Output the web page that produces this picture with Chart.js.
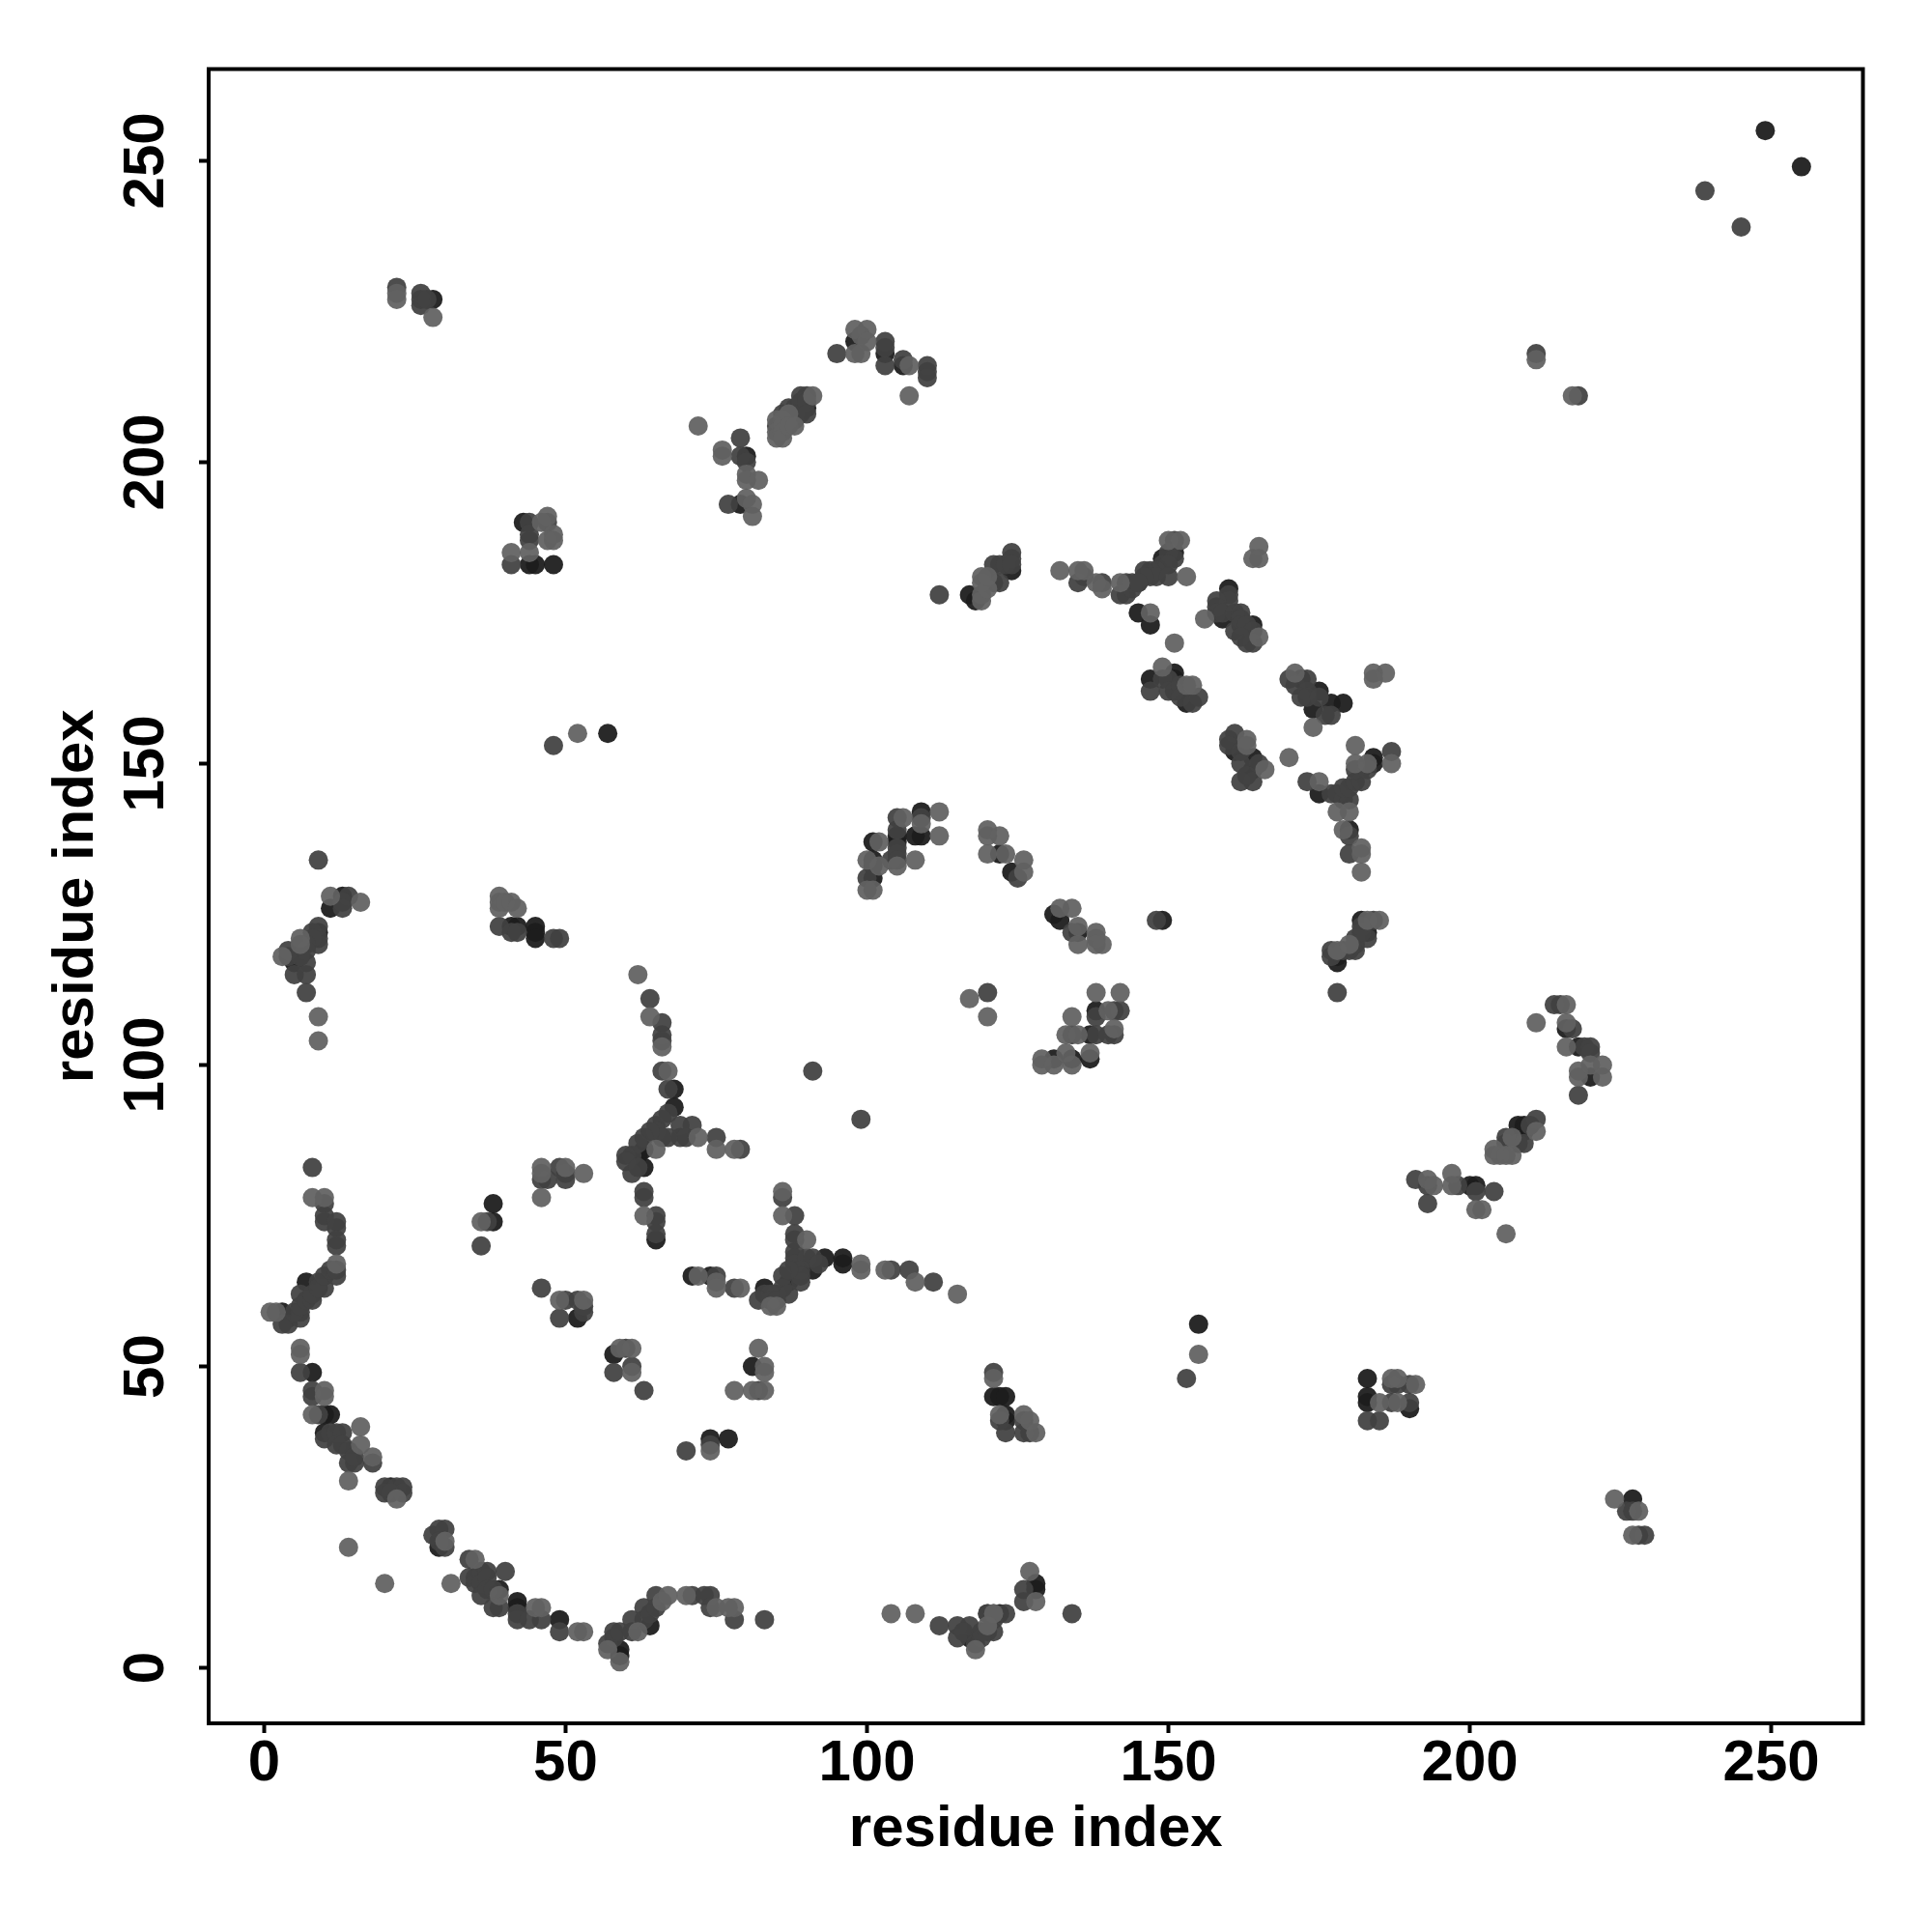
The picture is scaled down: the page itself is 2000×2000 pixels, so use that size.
<!DOCTYPE html>
<html><head><meta charset="utf-8">
<script src="https://cdn.jsdelivr.net/npm/chart.js@4"></script>
<style>html,body{margin:0;padding:0;background:#fff}#w{width:2000px;height:2000px}</style></head>
<body><div id="w"><canvas id="c" width="2000" height="2000"></canvas></div>
<script>
const tickValues = [0, 50, 100, 150, 200, 250];
const axisLabel = "residue index";
const axisMin = -9.2, axisMax = 265.2;
const darkPoints = [[28,227],[43,190],[44,183],[45,183],[48,183],[57,155],[80,201],[79,193],[90,209],[89,209],[98,220],[103,218],[106,216],[117,178],[118,177],[124,182],[101,137],[101,134],[101,133],[101,131],[105,138],[105,137],[108,138],[109,138],[109,142],[122,135],[124,132],[151,185],[149,184],[145,175],[147,173],[160,179],[159,174],[164,173],[147,164],[151,165],[151,164],[153,160],[172,164],[175,162],[174,159],[177,160],[179,160],[161,152],[164,151],[164,149],[175,145],[182,149],[184,151],[184,150],[180,139],[249,255],[255,249],[131,125],[132,124],[135,122],[149,124],[178,118],[178,117],[182,124],[183,122],[131,101],[134,101],[137,105],[137,101],[138,109],[209,90],[208,90],[209,89],[200,80],[201,80],[216,106],[218,103],[220,98],[155,57],[183,48],[183,45],[183,44],[190,43],[227,28],[121,45],[122,45],[123,45],[123,42],[123,41],[128,14],[128,13],[122,9],[117,5],[29,20],[39,13],[42,11],[42,10],[49,8],[59,3],[59,2],[64,7],[3,59],[4,58],[7,64],[8,49],[10,42],[11,42],[10,39],[21,30],[9,122],[5,117],[13,128],[11,126],[41,123],[42,123],[45,123],[45,122],[45,121],[68,96],[68,93],[63,86],[62,85],[63,83],[65,71],[38,77],[38,74],[52,58],[58,52],[81,50],[74,38],[77,38],[93,68],[91,66],[87,64],[83,63],[96,68],[96,67],[71,65],[74,65]];
const midPoints = [[22,229],[26,228],[26,227],[26,226],[27,227],[44,190],[44,188],[44,187],[41,183],[47,190],[48,153],[79,204],[79,201],[80,200],[77,193],[85,206],[86,208],[87,209],[87,207],[88,209],[88,208],[88,207],[89,211],[89,210],[89,208],[90,211],[90,210],[90,208],[95,218],[103,220],[103,219],[103,216],[106,217],[110,216],[110,215],[110,214],[112,178],[121,183],[121,180],[122,183],[122,180],[123,183],[124,184],[124,185],[124,183],[100,131],[104,134],[105,141],[105,139],[105,136],[105,135],[105,134],[109,141],[125,131],[135,180],[136,181],[139,180],[142,178],[143,180],[143,178],[144,180],[144,179],[145,180],[151,187],[151,184],[150,185],[149,183],[150,183],[148,182],[147,182],[146,182],[147,181],[148,181],[146,181],[150,181],[145,180],[160,178],[160,177],[158,177],[158,176],[158,175],[159,175],[161,175],[162,175],[162,174],[161,172],[162,173],[163,173],[164,172],[163,170],[164,170],[162,171],[147,162],[149,164],[150,164],[150,162],[151,162],[152,163],[152,161],[154,160],[155,161],[170,164],[171,163],[173,164],[172,161],[173,162],[173,161],[175,161],[176,158],[177,158],[160,154],[161,155],[160,153],[162,152],[162,150],[165,150],[162,147],[164,147],[163,148],[173,147],[177,145],[178,145],[179,144],[180,144],[179,146],[180,146],[181,147],[182,147],[181,149],[183,149],[187,152],[180,138],[180,135],[211,218],[218,211],[239,245],[245,239],[134,122],[148,124],[177,118],[177,119],[179,119],[180,119],[181,119],[181,121],[181,120],[182,123],[184,124],[183,121],[182,122],[178,112],[134,105],[138,105],[138,108],[141,109],[142,109],[141,105],[140,105],[120,112],[211,91],[210,90],[209,87],[208,87],[206,88],[206,87],[191,81],[193,80],[193,77],[198,80],[201,79],[204,79],[214,110],[215,110],[217,106],[219,103],[220,103],[220,102],[218,95],[153,48],[183,41],[185,41],[187,44],[190,44],[190,47],[187,47],[188,47],[226,26],[227,26],[228,22],[229,22],[121,49],[122,41],[123,39],[126,41],[126,39],[127,39],[126,13],[126,11],[134,9],[123,9],[120,9],[121,8],[121,6],[120,6],[112,7],[115,7],[115,5],[117,7],[116,6],[118,4],[119,6],[119,5],[120,9],[121,9],[28,22],[29,23],[30,23],[29,21],[30,20],[34,18],[34,15],[35,15],[35,14],[36,16],[36,14],[36,12],[37,16],[37,15],[37,13],[40,16],[38,13],[38,10],[39,10],[42,9],[42,8],[44,8],[46,8],[49,6],[57,4],[58,6],[58,5],[59,6],[61,6],[61,8],[63,10],[63,8],[64,9],[65,12],[65,10],[71,12],[73,12],[74,12],[74,10],[78,8],[83,8],[3,57],[4,57],[6,58],[6,59],[5,59],[6,60],[6,62],[7,61],[8,61],[8,62],[9,64],[10,63],[9,63],[10,65],[12,65],[11,66],[12,66],[6,49],[8,46],[8,45],[9,42],[10,38],[11,39],[12,39],[13,39],[12,37],[13,37],[14,36],[14,34],[15,34],[15,35],[18,34],[20,30],[20,29],[22,30],[23,30],[23,29],[21,29],[8,83],[10,77],[10,75],[10,74],[12,74],[12,73],[12,71],[12,70],[9,134],[14,128],[13,127],[13,126],[9,123],[9,121],[9,120],[8,122],[8,121],[7,120],[7,119],[4,119],[4,118],[5,115],[7,117],[7,115],[6,118],[7,112],[39,123],[41,122],[42,122],[48,121],[49,121],[64,111],[66,107],[66,105],[66,104],[66,99],[67,96],[67,92],[66,91],[65,90],[65,89],[69,90],[71,90],[69,88],[70,88],[75,88],[79,86],[67,88],[66,88],[64,89],[63,88],[62,87],[61,85],[60,85],[60,84],[61,82],[62,83],[63,79],[63,78],[65,75],[65,74],[65,72],[46,81],[47,81],[49,83],[50,82],[50,81],[37,74],[36,70],[46,63],[50,61],[52,61],[49,58],[53,59],[53,60],[60,53],[61,50],[58,49],[63,46],[82,46],[70,36],[74,37],[91,99],[99,91],[86,78],[88,75],[88,72],[88,71],[88,69],[88,68],[88,67],[91,68],[90,68],[92,67],[89,66],[89,64],[86,65],[86,63],[85,62],[83,62],[84,62],[82,61],[84,61],[85,61],[87,62],[89,65],[87,66],[104,66],[107,66],[111,64],[75,65],[78,63]];
const lightPoints = [[22,228],[22,227],[28,224],[47,191],[46,190],[48,188],[47,187],[48,187],[41,185],[44,185],[52,155],[72,206],[76,202],[76,201],[80,198],[80,197],[82,197],[80,194],[81,193],[81,191],[85,207],[85,205],[85,204],[86,207],[86,206],[86,205],[86,204],[87,208],[87,206],[88,206],[91,211],[98,222],[100,222],[99,221],[98,218],[99,218],[100,220],[107,216],[107,211],[119,177],[119,178],[119,181],[119,180],[120,179],[120,181],[102,137],[100,134],[102,133],[100,129],[101,129],[106,141],[105,133],[109,140],[108,134],[112,142],[112,138],[120,139],[120,138],[122,138],[120,135],[123,135],[126,134],[126,132],[132,182],[135,182],[136,182],[138,180],[139,179],[142,180],[150,187],[152,187],[153,181],[147,175],[156,174],[165,186],[164,184],[165,184],[165,171],[151,170],[149,166],[153,163],[154,163],[171,165],[174,156],[184,165],[186,165],[184,164],[163,154],[163,153],[166,149],[170,151],[175,147],[178,142],[180,142],[181,150],[183,150],[187,150],[181,153],[179,139],[182,136],[182,135],[182,132],[211,217],[217,211],[132,126],[134,126],[135,123],[135,120],[138,122],[138,121],[139,120],[138,120],[178,119],[180,120],[183,124],[185,124],[129,101],[129,100],[131,100],[134,100],[133,102],[134,108],[133,105],[135,105],[137,102],[138,112],[140,109],[142,112],[141,106],[120,108],[117,111],[211,89],[207,88],[207,85],[205,85],[204,85],[204,86],[206,85],[193,81],[194,80],[197,82],[197,80],[201,76],[202,76],[206,72],[211,107],[216,110],[216,107],[216,103],[218,99],[218,98],[220,100],[222,100],[222,98],[155,52],[185,44],[187,48],[188,48],[188,44],[191,47],[224,28],[228,26],[227,22],[121,48],[122,42],[126,42],[127,41],[128,39],[127,16],[128,11],[121,9],[104,9],[108,9],[118,3],[120,7],[14,20],[20,14],[31,14],[30,21],[35,18],[39,12],[45,10],[46,10],[52,6],[53,6],[57,3],[59,1],[62,6],[66,11],[67,12],[70,12],[75,10],[77,10],[78,10],[1,59],[2,59],[12,67],[6,53],[6,52],[10,46],[10,45],[8,42],[16,40],[16,37],[18,35],[14,31],[22,28],[8,78],[10,78],[11,128],[16,127],[6,121],[6,120],[3,118],[9,108],[9,104],[39,128],[39,127],[39,126],[40,127],[41,127],[42,126],[62,115],[64,108],[66,103],[67,99],[72,88],[75,86],[78,86],[65,86],[63,75],[46,83],[46,82],[50,83],[53,82],[46,78],[36,74],[49,61],[53,61],[59,53],[61,53],[61,49],[82,53],[83,50],[83,49],[81,46],[83,46],[78,46],[74,36],[86,79],[86,75],[90,71],[84,60],[85,60],[99,67],[99,66],[103,66],[108,64],[115,62],[72,65],[75,64],[75,63],[79,63]];
const shadeColors = ["rgba(98,98,98,0.94)", "rgba(66,66,66,0.94)", "rgba(30,30,30,0.95)"];
const toXY = p => ({x: p[0], y: p[1]});
const font = {family: "'Liberation Sans'", size: 60, weight: "bold"};
const axis = (extra) => Object.assign({
  type: "linear", min: axisMin, max: axisMax,
  afterBuildTicks: s => { s.ticks = tickValues.map(v => ({value: v})); },
  grid: {display: true, drawOnChartArea: false, drawTicks: true, tickLength: 10, tickWidth: 4, tickColor: "#000"},
  border: {display: true, color: "#000", width: 4}
}, extra);
new Chart(document.getElementById("c"), {
  type: "scatter",
  data: {datasets: [lightPoints, midPoints, darkPoints].map((pts, i) => ({
    data: pts.map(toXY), backgroundColor: shadeColors[i], borderWidth: 0, pointRadius: 10, pointHoverRadius: 10
  }))},
  plugins: [{id: "frame", afterDraw(ch) {
    const a = ch.chartArea, g = ch.ctx;
    g.save(); g.strokeStyle = "#000"; g.lineWidth = 4;
    g.strokeRect(a.left, a.top, a.right - a.left, a.bottom - a.top); g.restore();
  }}],
  options: {
    responsive: false, animation: false, devicePixelRatio: 1,
    layout: {padding: {top: 71.5, right: 71.5, left: 0, bottom: 0}},
    plugins: {legend: {display: false}, tooltip: {enabled: false}},
    scales: {
      x: axis({
        afterFit: s => { s.height = 216; },
        ticks: {color: "#000", font, padding: -4, maxRotation: 0, minRotation: 0, autoSkip: false},
        title: {display: true, text: axisLabel, color: "#000", font, padding: {top: 0, bottom: 70}}
      }),
      y: axis({
        afterFit: s => { s.width = 216; },
        ticks: {color: "#000", font, padding: 3, minRotation: 90, maxRotation: 90, crossAlign: "center", autoSkip: false},
        title: {display: true, text: axisLabel, color: "#000", font, padding: {top: 43, bottom: 0}}
      })
    }
  }
});
</script></body></html>
